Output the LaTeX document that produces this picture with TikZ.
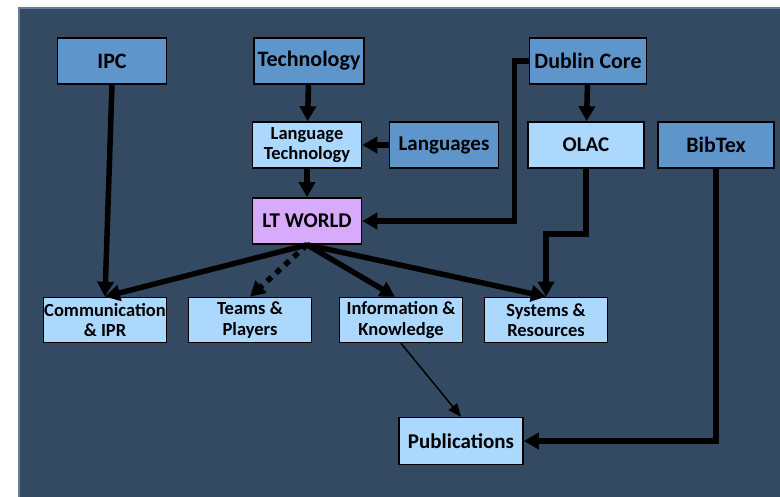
\documentclass[tikz,border=0pt]{standalone}
\usepackage{fontspec}
\setmainfont{Carlito}
\usetikzlibrary{arrows.meta}
\definecolor{slate}{HTML}{344A62}
\definecolor{rim}{HTML}{5F7FA3}
\definecolor{darkbox}{HTML}{5E96CB}
\definecolor{lightbox}{HTML}{ACD8FE}
\definecolor{lilac}{HTML}{D8AAFC}
\begin{document}
\begin{tikzpicture}[x=1pt,y=-1pt,
  box/.style={draw=black, line width=1.6pt, inner sep=0pt, minimum height=46pt,
    align=center, font=\bfseries\fontsize{18.5}{20.5}\selectfont},
  upper/.style={box, fill=darkbox},
  lower/.style={box, fill=lightbox},
  big/.style={font=\bfseries\fontsize{21}{23}\selectfont},
  huge/.style={font=\bfseries\fontsize{22}{24}\selectfont},
  link/.style={line width=5.5pt, -{Triangle[length=15pt,width=16pt]}},
  thin link/.style={line width=1.5pt, -{Triangle[length=13pt,width=11pt]}}]
\useasboundingbox (0,0) rectangle (780,496);
\fill[white] (0,0) rectangle (780,496);
\draw[fill=slate, draw=rim, line width=1.2pt] (19,8) rectangle (782,498);
% top row
\node[upper, huge, minimum width=109pt] (ipc) at (112,61) {IPC};
\node[upper, huge, minimum width=110pt] (tech) at (309,61) {Technology};
\node[upper, huge, minimum width=117pt] (dc) at (588,61) {Dublin Core};
% second row
\node[lower, minimum width=109pt] (lt) at (307,145) {Language\\Technology};
\node[upper, big, minimum width=109pt] (lang) at (444,145) {Languages};
\node[lower, big, minimum width=116pt] (olac) at (586,145) {OLAC};
\node[upper, huge, minimum width=116pt] (bib) at (716,145) {BibTex};
% centre
\node[box, big, fill=lilac, minimum width=109pt] (ltw) at (307,221) {LT WORLD};
% bottom row
\node[lower, minimum width=123pt, minimum height=45pt] (comm) at (105,320) {Communication\\\& IPR};
\node[lower, minimum width=123pt, minimum height=45pt] (teams) at (250,320) {Teams \&\\Players};
\node[lower, minimum width=123pt, minimum height=45pt] (info) at (401,320) {Information \&\\Knowledge};
\node[lower, minimum width=123pt, minimum height=45pt] (sys) at (546,320) {Systems \&\\Resources};
\node[lower, big, minimum width=124pt, minimum height=47pt] (pub) at (461,441) {Publications};
% connectors
\draw[link] (ipc.south) -- (comm.north);
\draw[link] (tech) -- (lt);
\draw[link] (lang) -- (lt);
\draw[link] (lt) -- (ltw);
\draw[link] (dc.west) -- ++(-14,0) |- (ltw.east);
\draw[link] (dc) -- (olac);
\draw[link] (olac.south) -- ++(0,65) -| (sys.north);
\draw[link] (bib.south) |- (pub.east);
\draw[link] (ltw.south) -- (comm.north);
\draw[link, dash pattern=on 6pt off 6pt] (ltw.south) -- (teams.north);
\draw[link] (ltw.south) -- ([xshift=-6pt]info.north);
\draw[link] (ltw.south) -- (sys.north);
\draw[thin link] (info.south) -- (pub.north);
\end{tikzpicture}
\end{document}
